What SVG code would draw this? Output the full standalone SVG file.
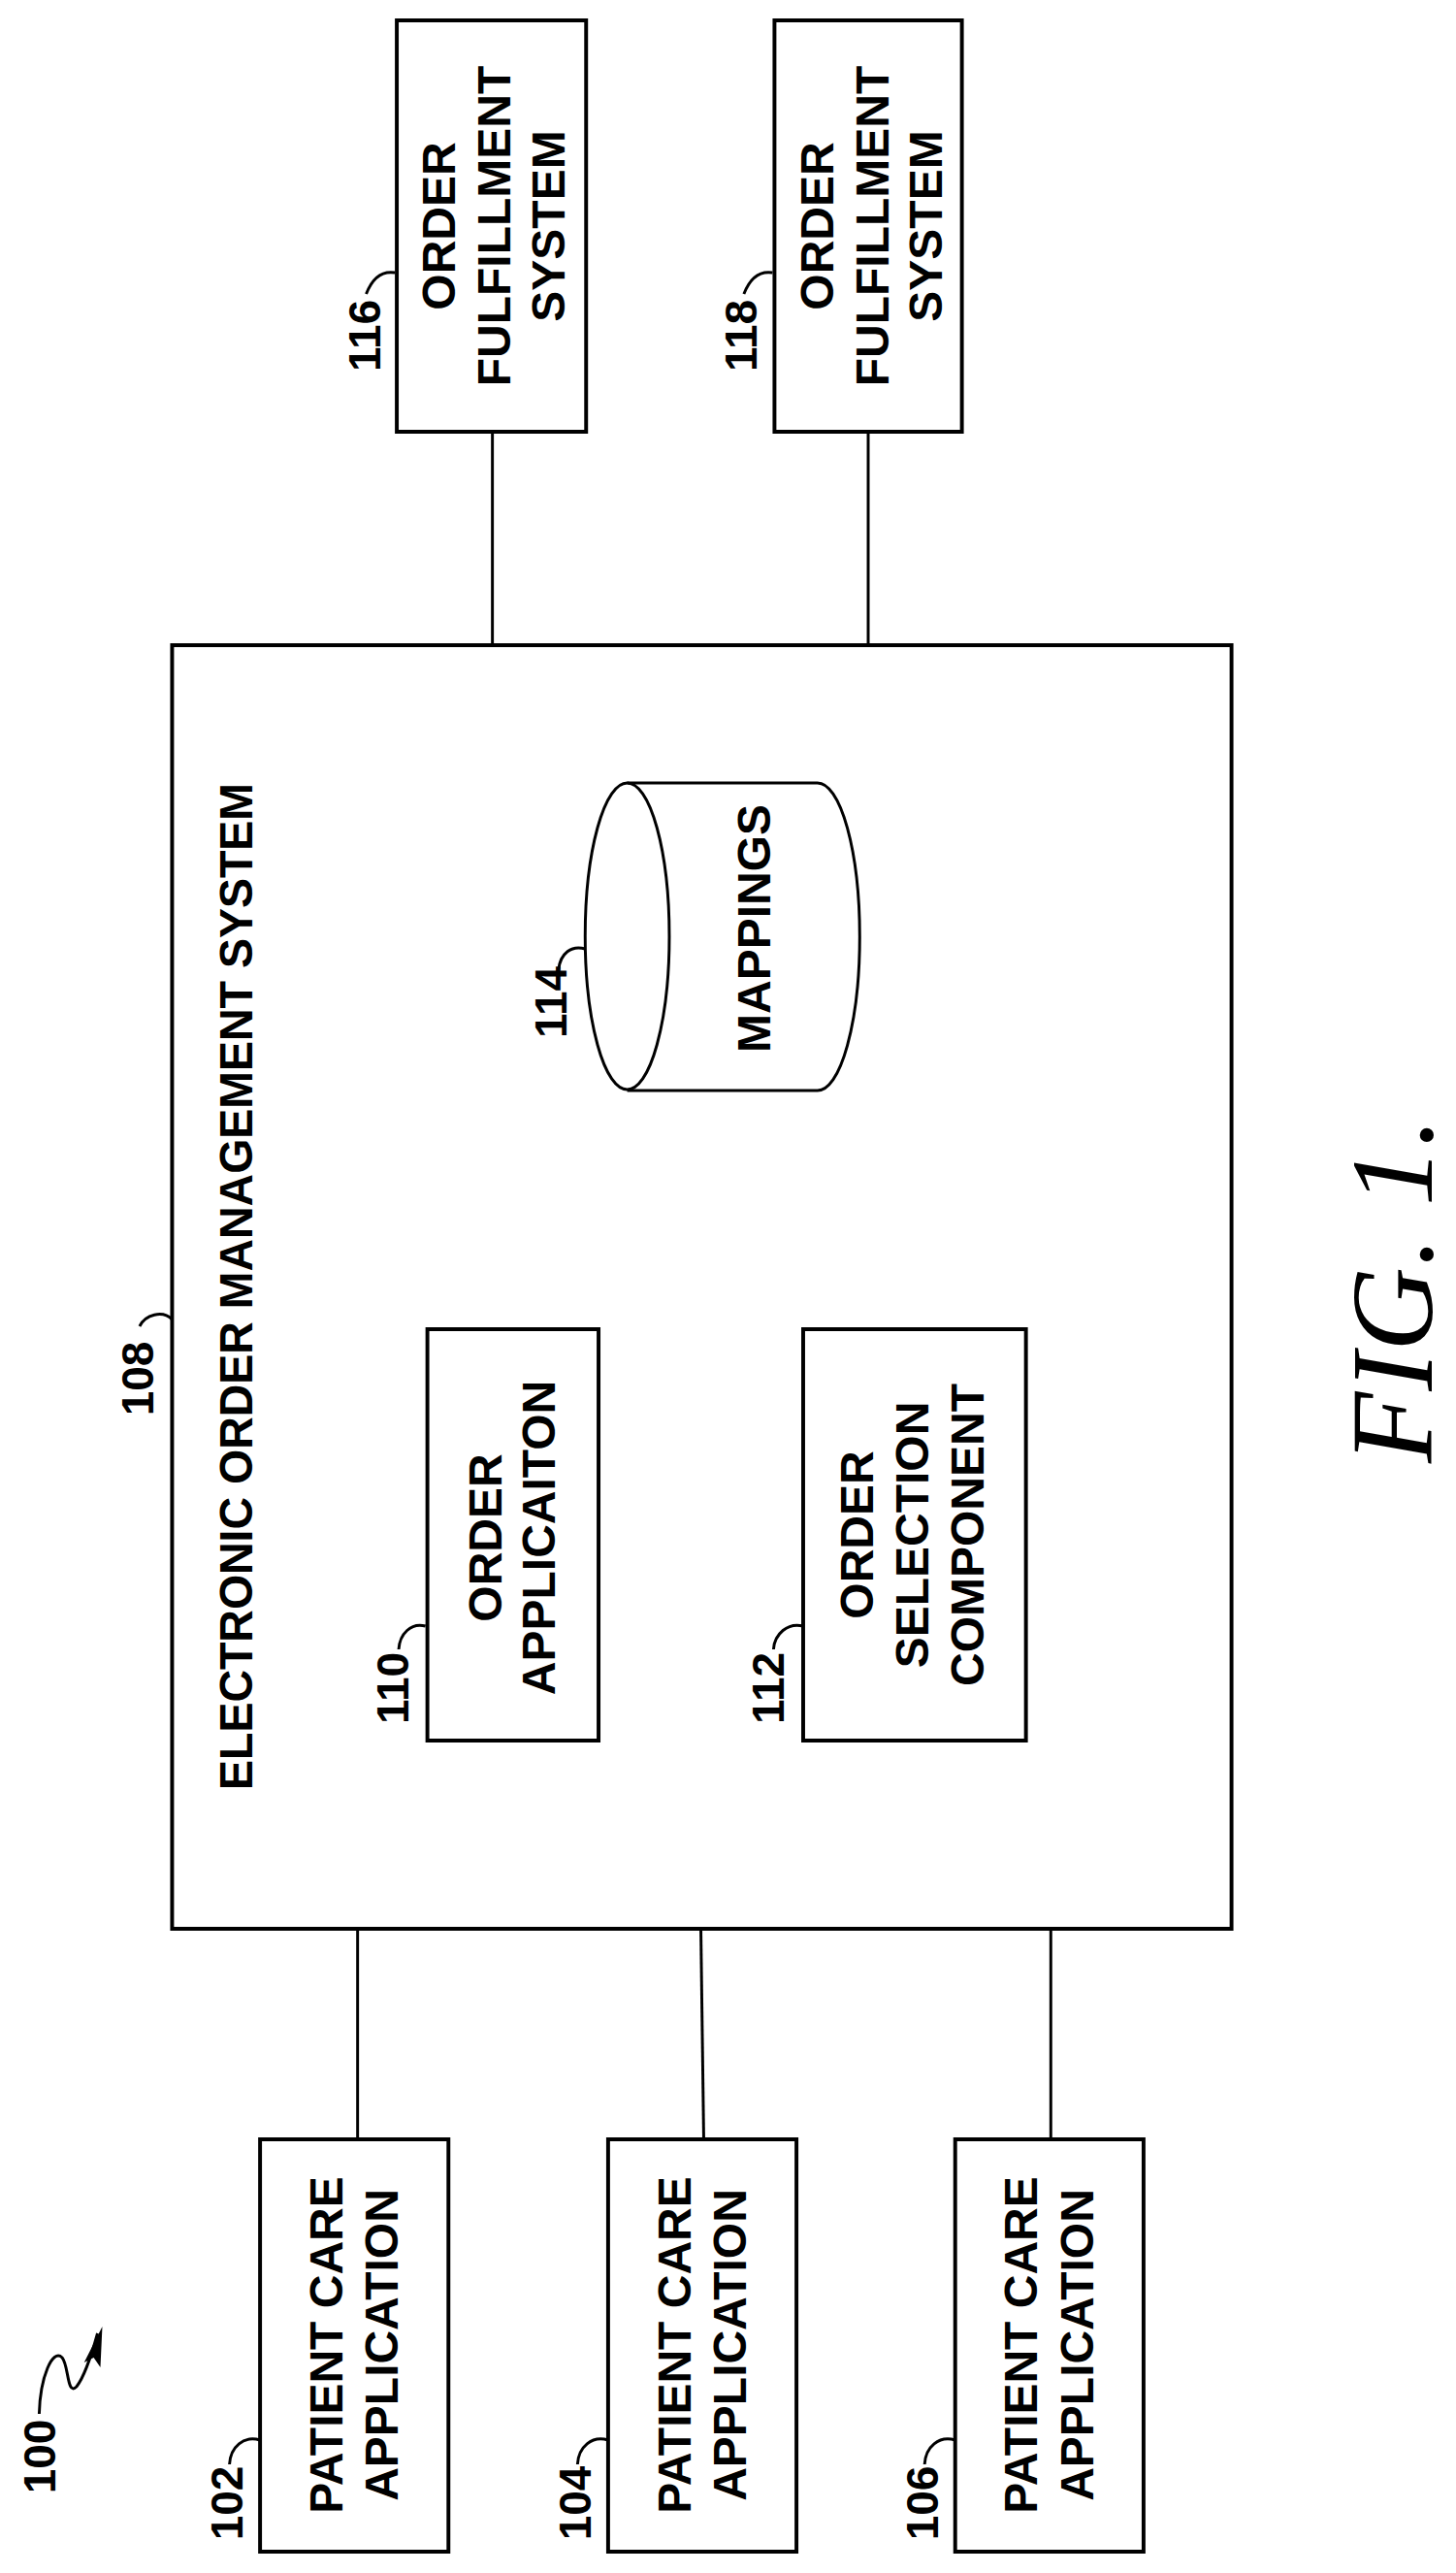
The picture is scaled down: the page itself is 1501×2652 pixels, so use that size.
<svg xmlns="http://www.w3.org/2000/svg" width="1501" height="2652" viewBox="0 0 1501 2652">
<style>
.b{fill:#fff;stroke:#000;stroke-width:4}
.l{fill:none;stroke:#000;stroke-width:3}
.t{font-family:"Liberation Sans",Arial,sans-serif;font-size:48px;font-weight:bold;fill:#000;text-anchor:middle}
.n{font-family:"Liberation Sans",Arial,sans-serif;font-size:46px;font-weight:bold;fill:#000;text-anchor:middle}
</style>
<rect width="1501" height="2652" fill="#fff"/>
<g transform="scale(0.9857 1)">
<g id="connectors">
<line class="l" x1="515" y1="445" x2="515" y2="665"/>
<line class="l" x1="908" y1="445" x2="908" y2="665"/>
<line class="l" x1="374" y1="1988" x2="374" y2="2205"/>
<line class="l" x1="733" y1="1988" x2="736" y2="2205"/>
<line class="l" x1="1099" y1="1988" x2="1099" y2="2205"/>
</g>
<g id="n116">
<rect class="b" x="415" y="21" width="198" height="424"/>
<text class="t" transform="translate(476 233) rotate(-90)">ORDER</text>
<text class="t" transform="translate(534 233) rotate(-90)">FULFILLMENT</text>
<text class="t" transform="translate(590 233) rotate(-90)">SYSTEM</text>
<text class="n" transform="translate(398 346) rotate(-90)">116</text>
<path class="l" d="M383 303 C390 285 400 279 413 281"/>
</g>
<g id="n118">
<rect class="b" x="810" y="21" width="196" height="424"/>
<text class="t" transform="translate(871 233) rotate(-90)">ORDER</text>
<text class="t" transform="translate(929 233) rotate(-90)">FULFILLMENT</text>
<text class="t" transform="translate(985 233) rotate(-90)">SYSTEM</text>
<text class="n" transform="translate(791 346) rotate(-90)">118</text>
<path class="l" d="M778 303 C785 285 795 279 808 281"/>
</g>
<g id="n108">
<rect class="b" x="180" y="665" width="1108" height="1323"/>
<text class="t" textLength="1038" lengthAdjust="spacingAndGlyphs" transform="translate(264 1326) rotate(-90)">ELECTRONIC ORDER MANAGEMENT SYSTEM</text>
<text class="n" transform="translate(160 1421) rotate(-90)">108</text>
<path class="l" d="M146 1367 C152 1355 170 1350 180 1360"/>
</g>
<g id="n114">
<path class="l" d="M656 807 L855 807 A44 158 0 0 1 855 1124 L656 1124"/>
<ellipse class="l" cx="656" cy="965" rx="44" ry="158"/>
<text class="t" transform="translate(806 957) rotate(-90)">MAPPINGS</text>
<text class="n" transform="translate(592 1033) rotate(-90)">114</text>
<path class="l" d="M584 1000 C586 982 598 974 612 978"/>
</g>
<g id="n110">
<rect class="b" x="447" y="1370" width="179" height="424"/>
<text class="t" transform="translate(524 1585) rotate(-90)">ORDER</text>
<text class="t" transform="translate(580 1585) rotate(-90)">APPLICAITON</text>
<text class="n" transform="translate(427 1740) rotate(-90)">110</text>
<path class="l" d="M417 1700 C418 1684 430 1672 445 1676"/>
</g>
<g id="n112">
<rect class="b" x="840" y="1370" width="233" height="424"/>
<text class="t" transform="translate(913 1582) rotate(-90)">ORDER</text>
<text class="t" transform="translate(971 1582) rotate(-90)">SELECTION</text>
<text class="t" transform="translate(1029 1582) rotate(-90)">COMPONENT</text>
<text class="n" transform="translate(820 1740) rotate(-90)">112</text>
<path class="l" d="M809 1700 C810 1684 824 1672 840 1676"/>
</g>
<g id="n102">
<rect class="b" x="272" y="2205" width="197" height="425"/>
<text class="t" transform="translate(358 2417) rotate(-90)">PATIENT CARE</text>
<text class="t" transform="translate(416 2417) rotate(-90)">APPLICATION</text>
<text class="n" transform="translate(254 2580) rotate(-90)">102</text>
<path class="l" d="M240 2540 C241 2522 255 2510 272 2515"/>
</g>
<g id="n104">
<rect class="b" x="636" y="2205" width="197" height="425"/>
<text class="t" transform="translate(722 2417) rotate(-90)">PATIENT CARE</text>
<text class="t" transform="translate(780 2417) rotate(-90)">APPLICATION</text>
<text class="n" transform="translate(618 2580) rotate(-90)">104</text>
<path class="l" d="M604 2540 C605 2522 619 2510 636 2515"/>
</g>
<g id="n106">
<rect class="b" x="999" y="2205" width="197" height="425"/>
<text class="t" transform="translate(1085 2417) rotate(-90)">PATIENT CARE</text>
<text class="t" transform="translate(1143 2417) rotate(-90)">APPLICATION</text>
<text class="n" transform="translate(981 2580) rotate(-90)">106</text>
<path class="l" d="M967 2540 C968 2522 982 2510 999 2515"/>
</g>
<g id="n100">
<text class="n" transform="translate(58 2532) rotate(-90)">100</text>
<path class="l" d="M41 2488 C42 2450 55 2420 65 2430 C72 2438 70 2470 80 2460 C88 2450 95 2430 102 2405"/>
<path d="M107 2398 L88 2435 L98 2430 L105 2440 Z" fill="#000"/>
</g>
</g>
<g id="fig">
<text font-family="'Liberation Serif','Times New Roman',serif" font-style="italic" font-size="120" text-anchor="middle" textLength="356" lengthAdjust="spacing" transform="translate(1476 1330) rotate(-90)">FIG. 1.</text>
</g>
</svg>
